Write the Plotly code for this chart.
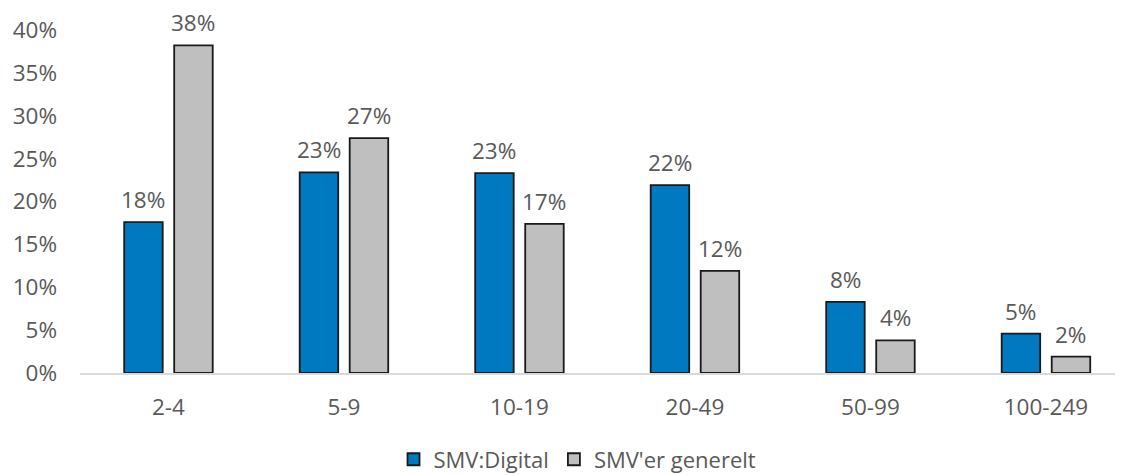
import plotly.graph_objects as go

categories = ["2-4", "5-9", "10-19", "20-49", "50-99", "100-249"]
smv_digital = [0.176, 0.234, 0.233, 0.219, 0.083, 0.046]
smv_generelt = [0.382, 0.274, 0.174, 0.119, 0.038, 0.019]
series_names = ["SMV:Digital", "SMV'er generelt"]
y_ticks = [0, 0.05, 0.10, 0.15, 0.20, 0.25, 0.30, 0.35, 0.40]

FONT = "Open Sans"
TXT = "#595959"
FS = 22.5
colors = ["#0079C1", "#BFBFBF"]

# page body has an 8px margin; figure is sized to end at the window edge
W, H = 1115, 467
ml, mr, mt, mb = 72, 0, 22, 102

fig = go.Figure()
for name, vals, col in zip(series_names, [smv_digital, smv_generelt], colors):
    fig.add_trace(go.Bar(
        x=categories, y=vals, name=name,
        marker=dict(color=col, line=dict(color="#1A1A1A", width=1.8)),
        hoverinfo="skip",
    ))

annotations = []
for i, vals in enumerate([smv_digital, smv_generelt]):
    shift = -25 if i == 0 else 25
    for c, v in zip(categories, vals):
        annotations.append(dict(
            x=c, y=v, xref="x", yref="y", text=f"{round(v*100):d}%",
            showarrow=False, xshift=shift, yshift=6, yanchor="bottom",
            borderpad=0,
            font=dict(family=FONT, size=FS, color=TXT),
        ))

fig.update_layout(
    width=W, height=H,
    margin=dict(l=ml, r=mr, t=mt, b=mb, pad=0, autoexpand=False),
    paper_bgcolor="white", plot_bgcolor="white",
    barmode="group", bargap=0.43, bargroupgap=0.23,
    font=dict(family=FONT, size=FS, color=TXT),
    annotations=annotations,
    showlegend=True,
    legend=dict(orientation="h", x=0.477, xanchor="center", y=-0.252, yanchor="middle",
                font=dict(family=FONT, size=22, color=TXT), traceorder="normal",
                itemwidth=30, tracegroupgap=0),
    xaxis=dict(
        type="category", range=[-0.504, 5.439], showgrid=False, zeroline=False,
        showline=True, linecolor="#D9D9D9", linewidth=2, ticks="",
        ticklabelstandoff=13, automargin=False,
        tickfont=dict(family=FONT, size=FS, color=TXT),
    ),
    yaxis=dict(
        range=[0, 0.40], tickvals=y_ticks, tickformat=".0%", showgrid=False,
        zeroline=False, showline=False, ticks="", ticklabelstandoff=22,
        automargin=False,
        tickfont=dict(family=FONT, size=FS, color=TXT),
    ),
)

fig.write_html("out.html")
